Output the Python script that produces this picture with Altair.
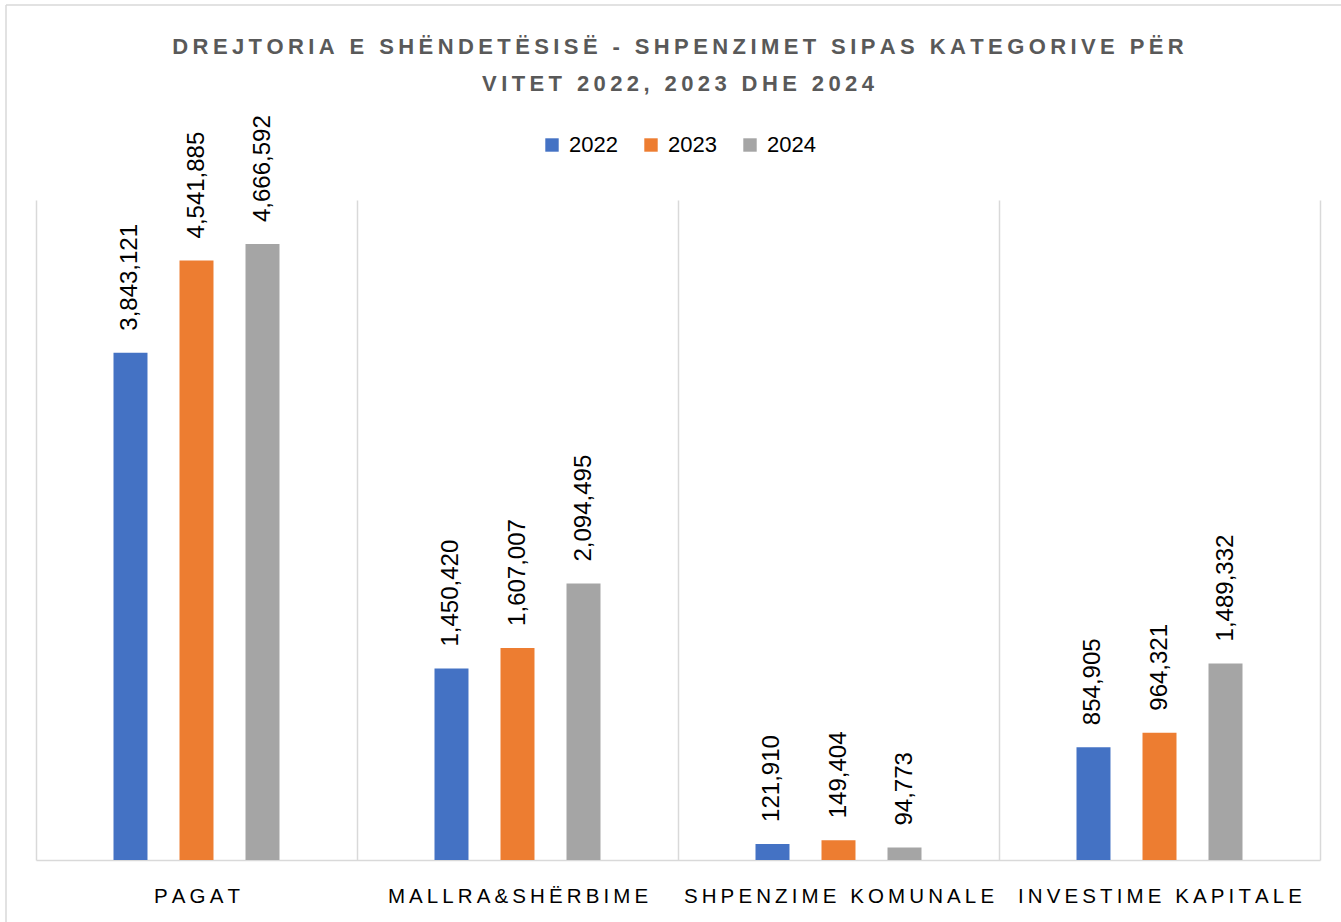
import altair as alt
import pandas as pd

categories = ["PAGAT", "MALLRA&SHËRBIME", "SHPENZIME KOMUNALE", "INVESTIME KAPITALE"]
years = ["2022", "2023", "2024"]
values_2022 = [3843121, 1450420, 121910, 854905]
values_2023 = [4541885, 1607007, 149404, 964321]
values_2024 = [4666592, 2094495, 94773, 1489332]
colors = ["#4472C4", "#ED7D31", "#A5A5A5"]
title_lines = ["DREJTORIA E SHËNDETËSISË - SHPENZIMET SIPAS KATEGORIVE PËR",
               "VITET 2022, 2023 DHE 2024"]

rows = []
for yr, vals in zip(years, [values_2022, values_2023, values_2024]):
    for c, v in zip(categories, vals):
        rows.append({"Kategoria": c, "Viti": yr, "Vlera": v})
df = pd.DataFrame(rows)

SP = "\u2009"
title_text = [SP.join(list(t)) for t in title_lines]

W, H = 1284, 660
FONT = "Liberation Sans"

x_enc = alt.X("Kategoria:N", sort=categories, title=None,
              scale=alt.Scale(paddingInner=0, paddingOuter=0),
              axis=alt.Axis(tickBand="extent", grid=True, gridColor="#d9d9d9", gridWidth=1.5,
                            ticks=False, domainColor="#d9d9d9", domainWidth=1.5,
                            labelAngle=0, labelFont=FONT, labelFontSize=20.5,
                            labelColor="#000000", labelPadding=26, labelLimit=400,
                            labelExpr="join(split(datum.label, ''), '\u2009')"))
xo_enc = alt.XOffset("Viti:N", sort=years,
                     scale=alt.Scale(paddingInner=0.485, paddingOuter=0, range=[77.5, 243.5]))
y_enc = alt.Y("Vlera:Q", scale=alt.Scale(domain=[0, 5000000]), axis=None)

base = alt.Chart(df)

bars = base.mark_bar().encode(
    x=x_enc, xOffset=xo_enc, y=y_enc,
    color=alt.Color("Viti:N", sort=years,
                    scale=alt.Scale(domain=years, range=colors),
                    legend=alt.Legend(title=None, orient="none", direction="horizontal",
                                      legendX=505, legendY=-66,
                                      symbolType="square", symbolSize=180,
                                      symbolStrokeWidth=0, labelFont=FONT,
                                      labelFontSize=22, labelColor="#000000",
                                      labelOffset=6, columnPadding=22)),
)

labels = base.mark_text(angle=270, align="left", baseline="middle", dx=22,
                        font=FONT, fontSize=24, color="#000000").encode(
    x=x_enc, xOffset=xo_enc, y=y_enc,
    text=alt.Text("Vlera:Q", format=",d"),
)

border_left = alt.Chart(pd.DataFrame({"a": [0]})).mark_rule(color="#d9d9d9", strokeWidth=1.5).encode(
    x=alt.value(-30), y=alt.value(-195), y2=alt.value(722))
border_top = alt.Chart(pd.DataFrame({"a": [0]})).mark_rule(color="#d9d9d9", strokeWidth=1.5).encode(
    x=alt.value(-30), x2=alt.value(1310), y=alt.value(-195))

chart = alt.layer(bars, labels, border_left, border_top).properties(
    width=W, height=H,
    autosize="none",
    padding={"left": 36, "top": 200, "right": 21, "bottom": 62},
    title=alt.Title(title_text, anchor="middle", font=FONT, fontSize=22,
                    fontWeight="bold", color="#595959", lineHeight=37, offset=-92),
).configure_view(stroke=None)

chart.save("out.html", embed_options={"renderer": "svg", "actions": False})
